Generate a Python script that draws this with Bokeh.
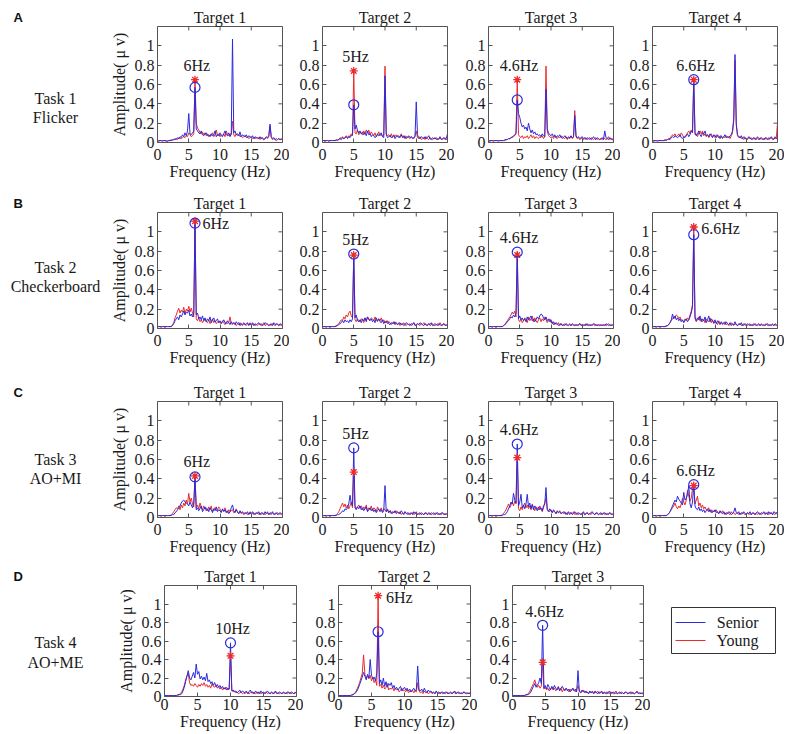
import numpy as np
from bokeh.plotting import figure
from bokeh.layouts import row, column
from bokeh.models import Range1d, FixedTicker
from bokeh.core.properties import value
from bokeh.embed import file_html
from bokeh.resources import INLINE

# ---------------- data ----------------
freq_hz = [round(0.2 * i, 1) for i in range(101)]          # 0 ... 20 Hz, 0.2 Hz bins
x_ticks = [0, 5, 10, 15, 20]
y_ticks = [0, 0.2, 0.4, 0.6, 0.8, 1]
y_tick_labels = ["0", "0.2", "0.4", "0.6", "0.8", "1"]
x_max, y_max = 20, 1.2

panel_letters = ["A", "B", "C", "D"]
task_names = ["Task 1", "Task 2", "Task 3", "Task 4"]
task_paradigms = ["Flicker", "Checkerboard", "AO+MI", "AO+ME"]
target_freqs = [[6, 5, 4.6, 6.6], [6, 5, 4.6, 6.6], [6, 5, 4.6, 6.6], [10, 6, 4.6]]
peak_label_side = [["above", "above", "above", "above"],
                   ["right", "above", "above", "right"],
                   ["above", "above", "above", "above"],
                   ["above", "right", "above"]]
series_names = ["Senior", "Young"]

# amplitudes in units of 0.01 uV, one value per 0.2 Hz bin
flicker_t1_senior = [2,2,2,2,2,2,2,2,1,2, 2,2,3,3,4,3,5,4,6,5, 8,6,10,7,12,30,9,8,10,12, 57,14,12,10,9,12,8,7,9,10,
                     7,8,6,9,7,8,12,6,8,7, 10,7,6,9,12,8,7,10,6,9, 107,10,12,8,9,7,11,6,8,7, 6,8,5,7,6,5,7,4,6,5,
                     5,4,6,4,5,3,4,6,5,7, 19,6,4,5,3,4,3,4,3,4, 3]
flicker_t1_young = [2,1,2,2,1,2,2,1,2,2, 2,3,2,3,3,4,3,5,4,4, 5,6,5,7,6,10,8,6,7,9, 65,20,15,13,10,9,11,8,10,7,
                    9,6,8,7,10,6,8,13,7,9, 6,8,7,9,6,12,8,7,9,8, 22,8,6,9,7,8,6,7,5,6, 7,5,6,4,5,6,4,5,4,5,
                    4,5,3,5,4,3,4,5,4,6, 17,5,3,4,3,2,3,4,3,3, 4]
flicker_t2_senior = [2,2,2,2,2,2,2,2,2,2, 2,3,2,3,4,3,5,4,5,6, 4,6,5,7,8,39,14,18,12,10, 12,9,11,8,10,7,12,8,9,6,
                     8,7,5,6,9,7,8,10,6,5, 69,8,5,6,7,5,6,8,4,6, 7,5,6,8,5,7,4,6,5,7, 5,6,4,5,6,42,8,5,4,6,
                     5,4,6,4,5,7,4,3,5,4, 4,5,3,4,6,3,4,5,3,4, 9]
flicker_t2_young = [2,2,1,2,2,1,2,2,2,2, 2,2,3,3,5,4,6,4,5,7, 5,7,6,9,7,74,10,9,13,8, 11,9,8,12,9,13,10,13,8,11,
                    9,7,10,6,8,11,7,9,6,8, 79,9,7,8,6,9,5,7,6,8, 6,7,5,9,6,5,7,4,6,5, 4,6,5,4,7,12,5,4,6,3,
                    4,5,3,6,4,3,5,4,3,4, 5,3,4,3,5,4,3,4,5,3, 4]
flicker_t3_senior = [2,2,2,2,2,2,2,2,2,2, 2,2,2,2,3,3,4,4,5,6, 7,8,9,44,30,26,20,16,18,14, 16,12,20,14,10,13,9,11,8,9,
                     7,8,6,9,7,6,55,14,10,8, 7,9,6,8,5,7,6,8,5,6, 5,7,6,4,6,5,7,5,6,28, 7,5,6,4,5,6,4,5,3,5,
                     4,5,3,4,6,4,3,5,4,3, 4,5,3,12,5,4,3,5,4,3, 3]
flicker_t3_young = [2,1,2,2,1,2,2,2,1,2, 2,2,2,3,3,3,4,4,5,5, 6,7,10,65,8,6,5,7,4,6, 5,7,4,6,8,5,7,4,6,5,
                    4,6,5,7,4,6,79,12,7,6, 5,6,4,7,5,4,6,5,7,4, 5,4,6,3,5,4,6,4,5,33, 6,4,5,3,4,5,3,4,5,3,
                    4,3,5,4,3,4,5,3,4,3, 4,3,5,4,3,4,6,3,4,3, 5]
flicker_t4_senior = [2,2,2,2,2,2,2,2,2,2, 3,2,3,4,3,5,6,5,7,6, 5,6,8,5,4,6,5,7,9,6, 8,12,10,65,10,7,9,12,8,6,
                     10,9,12,7,8,6,9,7,5,8, 7,5,8,6,4,7,5,6,8,5, 6,5,7,8,12,25,91,20,8,6, 5,7,4,6,5,3,4,6,5,3,
                     4,5,3,4,6,4,3,5,4,3, 5,4,3,5,4,6,4,3,5,4, 5]
flicker_t4_young = [2,1,2,2,1,2,2,2,2,2, 2,3,3,3,5,6,8,7,9,6, 7,9,6,10,8,5,6,8,10,12, 9,13,11,65,8,9,6,10,12,9,
                    12,7,9,6,8,5,7,9,6,7, 5,8,6,5,7,6,4,6,5,7, 5,6,4,7,10,22,85,18,7,5, 6,4,5,3,5,4,3,5,4,5,
                    3,4,5,3,4,3,5,4,3,4, 3,5,4,3,4,5,3,4,6,4, 20]

checker_t1_senior = [2,2,2,2,2,2,2,2,2,2, 2,2,3,5,8,10,12,9,14,12, 15,18,14,17,16,19,13,15,12,16, 109,14,16,10,12,9,13,8,11,7,
                     10,8,12,6,9,11,7,8,10,6, 8,5,7,9,6,5,8,6,4,7, 5,6,4,7,5,6,3,5,4,6, 4,5,6,3,5,4,6,3,5,4,
                     5,6,4,5,3,4,6,5,4,3, 4,5,3,6,4,5,4,3,5,4, 5]
checker_t1_young = [1,2,2,1,2,2,1,2,2,2, 2,2,4,6,11,14,18,21,16,19, 17,22,15,20,18,23,17,21,16,12, 111,10,8,11,7,9,6,8,10,7,
                    6,9,5,7,10,6,8,5,7,6, 7,5,8,6,4,7,5,6,12,5, 4,6,5,3,5,4,6,4,3,5, 4,3,5,4,6,3,4,5,3,4,
                    3,5,4,3,4,6,3,4,5,3, 4,3,5,4,3,4,5,3,4,3, 4]
checker_t2_senior = [2,2,2,2,2,2,2,2,2,2, 2,3,3,4,5,6,8,6,9,7, 8,6,9,7,10,77,11,14,8,7, 9,6,10,8,11,7,12,9,8,10,
                     7,9,6,11,8,10,7,6,9,5, 7,6,8,5,4,6,5,7,4,6, 4,5,6,4,5,3,4,6,5,4, 3,5,4,6,3,4,5,4,6,5,
                     4,3,5,4,3,5,4,6,3,4, 5,4,3,5,4,3,4,5,3,4, 3]
checker_t2_young = [1,2,2,1,2,2,1,2,2,2, 2,2,4,5,7,9,8,12,10,14, 12,16,18,13,11,76,9,7,10,8, 7,10,9,6,11,8,12,10,9,11,
                    10,8,12,9,7,10,8,11,7,9, 6,8,5,7,6,4,6,5,7,5, 4,6,3,5,4,6,4,3,5,4, 5,3,4,6,4,3,5,4,3,5,
                    4,6,5,3,4,5,3,4,5,3, 3,4,5,3,6,4,3,5,4,3, 4]
checker_t3_senior = [2,2,2,2,2,2,2,2,2,2, 2,2,3,4,5,7,8,10,12,11, 14,12,16,79,10,13,9,11,8,10, 7,12,9,11,13,8,10,7,9,12,
                     10,13,15,14,11,9,12,8,10,7, 9,5,7,4,6,5,3,4,5,3, 4,3,5,4,3,4,3,5,4,3, 4,3,4,5,3,4,3,4,3,5,
                     3,4,3,4,5,3,4,3,4,3, 4,3,4,3,5,4,3,4,3,4, 3]
checker_t3_young = [1,2,2,1,2,2,1,2,2,2, 2,2,3,4,6,8,10,12,14,17, 15,18,12,76,9,7,10,6,8,11, 9,6,12,8,10,13,7,11,8,6,
                    9,11,7,10,8,12,9,6,8,10, 6,7,4,6,5,4,6,3,5,4, 3,5,4,3,4,5,3,4,3,4, 3,4,3,5,4,3,4,3,5,3,
                    4,3,4,3,4,5,3,4,3,4, 3,4,3,4,3,4,5,3,4,3, 4]
checker_t4_senior = [2,2,2,2,2,2,2,2,2,2, 2,3,3,4,6,9,15,10,13,9, 11,8,10,7,9,6,8,10,7,9, 12,16,22,97,12,8,11,9,13,7,
                     10,8,12,6,9,13,7,10,8,6, 9,5,8,6,4,7,5,6,4,7, 5,4,6,3,5,4,7,4,3,5, 4,6,3,5,4,3,5,4,3,4,
                     3,5,4,3,4,5,3,4,3,4, 3,4,5,3,4,3,4,3,5,4, 3]
checker_t4_young = [1,2,2,1,2,2,1,2,2,2, 2,2,3,4,6,8,10,12,11,14, 13,10,12,9,8,7,10,8,11,9, 14,18,25,105,10,7,9,12,8,10,
                    7,9,6,10,8,7,11,6,9,5, 7,6,4,8,5,6,4,5,7,4, 5,3,4,6,4,3,5,4,3,4, 5,3,4,3,5,4,3,4,5,3,
                    4,3,5,4,3,4,3,5,4,3, 4,5,3,4,3,4,5,3,4,3, 3]

aomi_t1_senior = [2,2,2,2,2,2,2,2,2,2, 2,2,3,3,5,6,8,10,12,15, 17,18,16,15,14,12,16,13,10,15, 42,8,10,7,9,12,6,8,11,7,
                  9,6,10,8,5,9,7,11,6,8, 7,5,9,6,8,5,7,4,6,10, 13,7,5,8,6,4,7,5,6,4, 5,4,6,3,5,4,6,3,4,5,
                  4,6,3,5,4,3,6,4,5,3, 5,4,6,3,4,5,3,4,5,4, 4]
aomi_t1_young = [1,2,2,1,2,2,1,2,2,2, 2,3,4,6,8,10,9,12,8,13, 10,15,12,18,14,25,16,20,14,11, 43,10,13,9,15,11,8,12,9,10,
                 7,11,8,12,6,9,10,7,8,11, 9,6,8,7,10,6,5,8,6,7, 8,5,6,9,5,4,6,4,5,3, 4,5,3,4,6,3,4,5,3,4,
                 5,3,4,3,5,4,3,4,6,3, 4,3,5,4,3,4,5,3,4,3, 4]
aomi_t2_senior = [2,2,2,2,2,2,2,2,2,2, 2,2,3,3,4,5,7,6,9,8, 10,14,23,15,12,72,10,8,11,9, 12,8,10,7,9,11,6,8,10,7,
                  9,6,8,5,7,9,6,8,5,7, 33,6,8,5,7,4,6,5,7,4, 6,5,4,7,5,3,6,4,5,3, 4,5,3,6,4,5,3,4,5,3,
                  4,3,5,4,3,5,4,3,4,5, 3,4,5,3,4,3,5,4,3,4, 3]
aomi_t2_young = [1,2,2,1,2,2,1,2,2,2, 2,3,4,6,9,12,15,11,14,10, 13,9,12,16,10,47,12,9,11,13, 10,12,8,11,9,13,7,10,8,12,
                 7,10,9,6,11,8,7,10,6,9, 8,6,9,5,7,6,4,6,5,7, 5,4,6,3,5,4,6,4,3,5, 3,4,5,3,4,6,3,4,3,5,
                 4,3,4,5,3,4,3,5,4,3, 4,5,3,4,3,5,4,3,4,3, 4]
aomi_t3_senior = [2,2,2,2,2,2,2,2,2,2, 2,2,3,3,4,6,9,12,16,14, 25,18,15,76,12,16,24,10,13,9, 14,24,11,15,9,13,8,12,10,7,
                  11,8,10,7,12,14,31,8,6,9, 7,5,8,6,4,7,5,6,4,5, 6,4,5,3,6,4,5,3,4,6, 4,3,5,4,3,4,6,3,4,5,
                  3,4,5,6,4,3,5,4,3,4, 5,3,4,5,3,4,3,5,4,3, 4]
aomi_t3_young = [1,2,2,1,2,2,1,2,2,2, 2,3,4,6,8,11,14,10,13,16, 12,17,14,62,9,7,11,8,12,15, 10,13,9,12,8,14,10,7,11,9,
                 8,12,9,6,10,15,20,9,7,6, 8,5,7,6,4,6,5,7,4,5, 4,6,3,5,4,3,5,4,6,3, 4,5,3,4,3,5,4,3,4,5,
                 3,4,3,5,4,3,4,5,3,4, 3,4,5,3,4,3,4,5,3,4, 3]
aomi_t4_senior = [2,2,2,2,2,2,2,2,2,2, 2,2,3,4,6,9,12,15,18,16, 22,19,17,15,13,26,18,20,24,33, 14,10,16,34,12,9,8,11,7,9,
                  6,8,5,7,9,6,8,5,7,6, 8,5,6,4,7,5,4,6,3,5, 4,6,5,3,4,6,10,5,4,6, 3,5,4,6,4,3,5,4,6,3,
                  5,4,3,5,6,4,3,5,4,6, 4,5,3,6,4,5,3,6,5,4, 6]
aomi_t4_young = [1,2,2,1,2,2,1,2,2,2, 2,2,3,4,6,8,10,12,15,11, 9,12,10,14,20,16,13,18,28,22, 17,20,30,33,14,18,22,12,15,10,
                 13,9,11,8,7,10,6,8,5,7, 6,8,5,4,6,5,7,4,5,3, 5,4,3,6,4,5,3,4,5,3, 4,3,5,4,3,4,5,3,4,3,
                 4,5,3,4,3,5,4,3,4,5, 3,4,5,3,4,5,3,4,3,5, 4]

aome_t1_senior = [1,1,1,1,1,1,1,1,1,1, 2,2,2,3,6,10,16,22,28,20, 18,22,26,20,35,24,27,19,22,18, 21,17,25,16,18,14,16,12,15,11,
                  13,10,12,9,11,8,10,7,9,8, 58,6,7,5,6,4,5,7,4,6, 5,4,6,3,5,7,4,5,3,6, 4,5,3,6,4,5,3,4,6,4,
                  3,5,4,3,6,4,3,5,4,3, 5,4,3,5,4,3,5,4,3,4, 4]
aome_t1_young = [1,1,1,1,1,1,1,1,1,1, 1,2,3,5,8,12,18,22,25,15, 12,13,11,14,12,10,13,11,14,12, 15,11,13,10,12,9,14,11,10,12,
                 9,11,8,10,7,9,8,10,7,8, 44,7,5,6,4,5,3,4,5,3, 4,3,5,4,3,4,5,3,4,3, 4,3,5,3,4,3,4,5,3,4,
                 3,4,3,4,5,3,4,3,4,3, 4,3,4,3,5,4,3,4,3,5, 3]
aome_t2_senior = [1,1,1,1,1,1,1,1,1,1, 2,2,3,4,6,9,13,17,21,26, 22,18,24,20,40,23,19,21,17,25, 70,14,18,12,20,11,16,10,14,12,
                  15,9,12,8,10,7,9,11,6,8, 10,7,9,6,8,5,7,9,6,8, 33,7,6,8,5,9,6,4,7,5, 6,4,5,3,6,4,5,3,4,5,
                  3,5,4,3,4,5,3,4,6,3, 4,5,3,4,3,5,4,3,4,3, 4]
aome_t2_young = [1,1,1,1,1,1,1,1,1,1, 1,2,3,5,8,11,15,20,25,45, 24,20,22,19,23,17,21,15,18,12, 109,11,13,9,12,8,10,14,7,9,
                 8,10,6,9,7,8,5,7,9,6, 7,5,8,4,6,5,7,4,6,5, 15,6,4,5,3,6,4,5,3,4, 5,3,4,3,5,4,3,4,5,3,
                 4,3,5,4,3,4,3,5,4,3, 5,3,4,3,4,5,3,4,3,4, 3]
aome_t3_senior = [1,1,1,1,1,1,1,1,1,1, 2,2,2,3,5,8,11,14,10,12, 15,20,14,77,9,12,8,13,10,7, 11,8,12,9,7,10,6,9,11,8,
                  7,9,6,8,5,7,9,6,8,5, 28,6,4,7,5,6,4,5,3,6, 4,5,3,6,4,3,5,4,6,3, 5,4,3,4,6,3,4,5,3,4,
                  3,4,5,3,4,3,5,4,3,4, 5,3,4,3,4,5,3,4,3,4, 3]
aome_t3_young = [1,1,1,1,1,1,1,1,1,1, 1,2,3,5,8,11,14,18,13,10, 12,9,11,37,8,10,7,9,6,8, 10,7,9,6,8,11,7,9,5,8,
                 6,9,7,5,8,6,9,7,5,8, 12,6,4,5,7,4,6,5,3,5, 4,6,3,5,4,6,3,4,5,3, 4,3,5,4,3,5,4,3,4,6,
                 3,4,3,5,4,3,4,5,3,4, 3,5,4,3,4,6,4,3,4,3, 3]

spectra = [
    [(flicker_t1_senior, flicker_t1_young), (flicker_t2_senior, flicker_t2_young),
     (flicker_t3_senior, flicker_t3_young), (flicker_t4_senior, flicker_t4_young)],
    [(checker_t1_senior, checker_t1_young), (checker_t2_senior, checker_t2_young),
     (checker_t3_senior, checker_t3_young), (checker_t4_senior, checker_t4_young)],
    [(aomi_t1_senior, aomi_t1_young), (aomi_t2_senior, aomi_t2_young),
     (aomi_t3_senior, aomi_t3_young), (aomi_t4_senior, aomi_t4_young)],
    [(aome_t1_senior, aome_t1_young), (aome_t2_senior, aome_t2_young),
     (aome_t3_senior, aome_t3_young)],
]
for task in spectra:
    for s, y in task:
        assert len(s) == len(freq_hz) and len(y) == len(freq_hz), (len(s), len(y))

# ---------------- style / geometry ----------------
BLUE = "#2b2bdc"
RED = "#ec2b2b"
SERIES_COLORS = [BLUE, RED]
FRAME_COLOR = "#555555"
TEXT_COLOR = "#1a1a1a"
SERIF = "Liberation Serif"

LABEL_W = 107
TOPS = [26, 22, 22, 22]
FRAME_HS = [116, 116, 116, 111]
BOTTOMS = [48, 51, 46, 37]
X_LABEL_STANDOFF = [6, 6, 6, 2]
# per row: (frame widths, left borders, right borders)
ROW_GEOM = [
    ([125, 125, 125, 125], [50, 33, 34, 32], [7, 7, 7, 7]),
    ([125, 125, 125, 125], [50, 33, 34, 32], [7, 7, 7, 7]),
    ([125, 125, 125, 125], [50, 33, 34, 32], [7, 7, 7, 7]),
    ([132, 132, 131], [57, 35, 35], [7, 7, 7]),
]
LEGEND_FIG_W = 134
# legend key box, in the legend panel's pixel coordinates (y measured from the row's top)
KEY_BOX = dict(left=21, right=125, top=44, bottom=90)
KEY_ROW_Y = [59, 77]
KEY_SWATCH_X = (25, 55)
KEY_TEXT_X = 108
TASK_TEXT_Y = [[98, 117], [77, 96], [80, 99], [79, 99]]   # px from the row's top
TASK_TEXT_X = 55
TICK_LEN = 4


def style_axis(ax):
    ax.axis_line_color = None
    ax.major_tick_in = TICK_LEN
    ax.major_tick_out = 0
    ax.minor_tick_line_color = None
    ax.major_tick_line_color = FRAME_COLOR
    ax.major_label_text_font = SERIF
    ax.major_label_text_font_size = "16px"
    ax.major_label_text_color = TEXT_COLOR
    ax.axis_label_text_font = SERIF
    ax.axis_label_text_font_size = "16px"
    ax.axis_label_text_font_style = "normal"
    ax.axis_label_text_color = TEXT_COLOR


def style_axes(p, ti, first_col):
    style_axis(p.xaxis[0])
    style_axis(p.yaxis[0])
    p.xaxis.ticker = FixedTicker(ticks=x_ticks)
    p.yaxis.ticker = FixedTicker(ticks=y_ticks)
    p.yaxis.major_label_overrides = {t: l for t, l in zip(y_ticks, y_tick_labels)}
    p.xaxis.axis_label = "Frequency (Hz)"
    p.xaxis.axis_label_standoff = 0
    p.xaxis.major_label_standoff = X_LABEL_STANDOFF[ti]
    p.yaxis.major_label_standoff = 3
    if first_col:
        p.yaxis.axis_label = "Amplitude( \u03bc v)"
        p.yaxis.axis_label_standoff = 4
    # box-style tick marks on the top and right edges (inward)
    p.ray(x=x_ticks, y=[y_max] * len(x_ticks), length=TICK_LEN, length_units="screen",
          angle=-np.pi / 2, line_color=FRAME_COLOR, line_width=1)
    p.ray(x=[x_max] * len(y_ticks), y=y_ticks, length=TICK_LEN, length_units="screen",
          angle=np.pi, line_color=FRAME_COLOR, line_width=1)


def make_panel(ti, ki):
    fws, lbs, rbs = ROW_GEOM[ti]
    fw, lb, rb = fws[ki], lbs[ki], rbs[ki]
    top, fh, bottom = TOPS[ti], FRAME_HS[ti], BOTTOMS[ti]
    p = figure(width=lb + fw + rb, height=top + fh + bottom,
               x_range=Range1d(0, x_max), y_range=Range1d(0, y_max),
               output_backend="svg", toolbar_location=None,
               min_border_left=lb, min_border_right=rb,
               min_border_top=top, min_border_bottom=bottom,
               title="Target %d" % (ki + 1))
    p.title.text_font = SERIF
    p.title.text_font_size = "16px"
    p.title.text_font_style = "normal"
    p.title.text_color = TEXT_COLOR
    p.title.align = "center"
    p.title.standoff = 1
    p.outline_line_color = FRAME_COLOR
    p.outline_line_width = 1
    p.grid.visible = False
    p.background_fill_color = "white"
    p.border_fill_color = "white"
    style_axes(p, ti, ki == 0)

    senior_c, young_c = spectra[ti][ki]
    senior = np.array(senior_c) / 100.0
    young = np.array(young_c) / 100.0
    p.line(freq_hz, young, line_color=RED, line_width=1)
    p.line(freq_hz, senior, line_color=BLUE, line_width=1)

    f0 = target_freqs[ti][ki]
    idx = freq_hz.index(round(f0, 1))
    s_pk, y_pk = senior[idx], young[idx]
    p.scatter([f0], [y_pk], marker="asterisk", size=8, line_color=RED, line_width=1.3)
    p.scatter([f0], [s_pk], marker="circle", size=10, fill_color=None,
              line_color=BLUE, line_width=1.2)

    label = "%gHz" % f0
    top_pk = max(s_pk, y_pk)
    if peak_label_side[ti][ki] == "above":
        p.text([f0 + 0.3], [top_pk + 0.06], text=[label], text_align="center",
               text_baseline="bottom", text_font=value(SERIF), text_font_size="16px",
               text_color=TEXT_COLOR)
    else:
        p.text([f0 + 1.2], [top_pk - 0.02], text=[label], text_align="left",
               text_baseline="middle", text_font=value(SERIF), text_font_size="16px",
               text_color=TEXT_COLOR)
    return p


def blank_fig(ti, width, title=None):
    top, fh, bottom = TOPS[ti], FRAME_HS[ti], BOTTOMS[ti]
    p = figure(width=width, height=top + fh + bottom,
               x_range=Range1d(0, width), y_range=Range1d(top + fh, top),
               x_axis_type=None, y_axis_type=None, output_backend="svg",
               toolbar_location=None, min_border_left=0, min_border_right=0,
               min_border_top=top, min_border_bottom=bottom, title=title)
    p.outline_line_color = None
    p.grid.visible = False
    return p


def make_label_fig(ti):
    p = blank_fig(ti, LABEL_W, title=panel_letters[ti])
    p.title.text_font = "Liberation Sans"
    p.title.text_font_style = "bold"
    p.title.text_font_size = "13px"
    p.title.text_color = "#111111"
    p.title.align = "left"
    p.title.offset = 13
    p.title.standoff = 4
    p.text([TASK_TEXT_X, TASK_TEXT_X], TASK_TEXT_Y[ti], text=[task_names[ti], task_paradigms[ti]],
           text_font=value(SERIF), text_font_size="16px", text_align="center",
           text_baseline="middle", text_color=TEXT_COLOR)
    return p


def make_legend_fig(ti):
    """Key for the two groups, drawn in a small panel to the right of the last row."""
    p = blank_fig(ti, LEGEND_FIG_W)
    p.quad(left=[KEY_BOX["left"]], right=[KEY_BOX["right"]], top=[KEY_BOX["top"]],
           bottom=[KEY_BOX["bottom"]], fill_color="white", line_color="#333333", line_width=1)
    n = len(series_names)
    p.segment(x0=[KEY_SWATCH_X[0]] * n, x1=[KEY_SWATCH_X[1]] * n, y0=KEY_ROW_Y, y1=KEY_ROW_Y,
              line_color=SERIES_COLORS, line_width=1.2)
    p.text(x=[KEY_TEXT_X] * n, y=KEY_ROW_Y, text=series_names, text_align="right",
           text_baseline="middle", text_font=value(SERIF), text_font_size="16px",
           text_color=TEXT_COLOR)
    return p


rows = []
for ti in range(4):
    figs = [make_label_fig(ti)]
    for ki in range(len(target_freqs[ti])):
        figs.append(make_panel(ti, ki))
    if ti == 3:
        figs.append(make_legend_fig(ti))
    rows.append(row(*figs, spacing=0))

layout = column(*rows, spacing=0)
open("out.html", "w").write(file_html(layout, INLINE))
